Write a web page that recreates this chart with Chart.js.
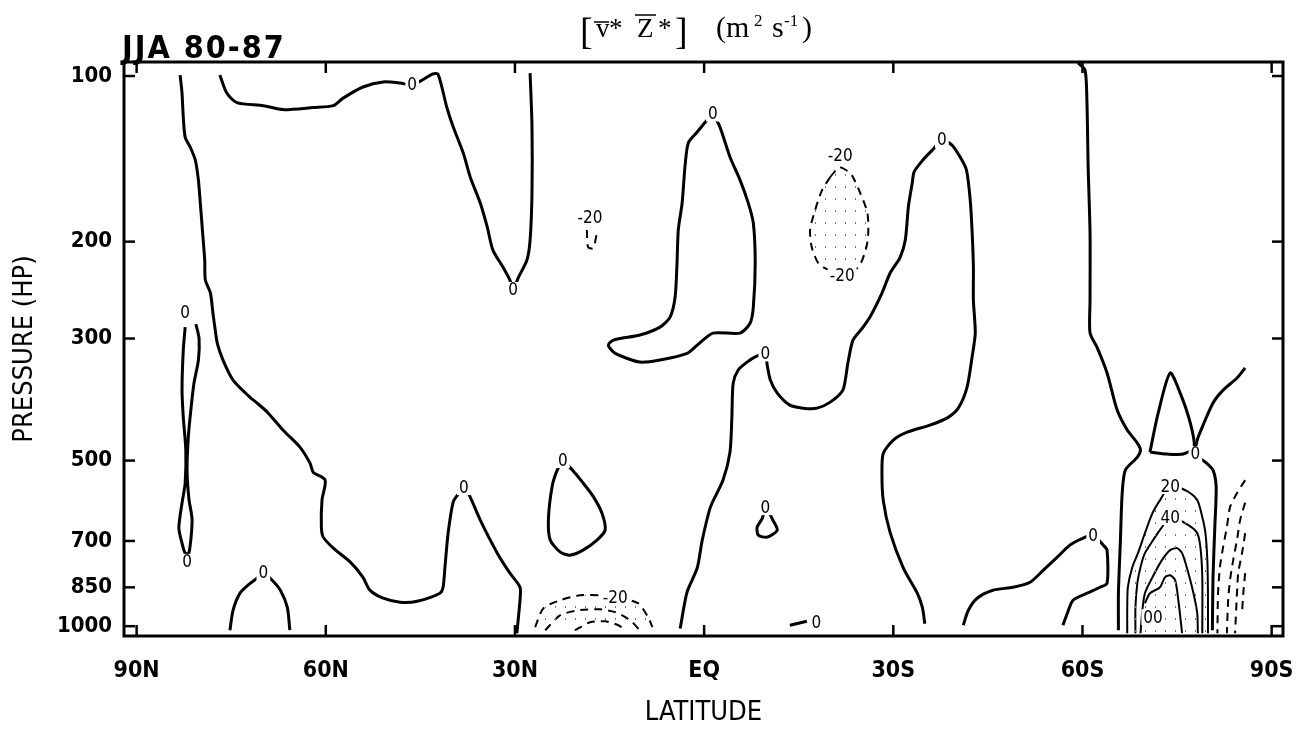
<!DOCTYPE html>
<html>
<head>
<meta charset="utf-8">
<script src="https://cdn.jsdelivr.net/npm/chart.js@4.4.1/dist/chart.umd.min.js"></script>
<style>
  html, body { margin: 0; padding: 0; background: #fff; }
  #wrap { width: 1309px; height: 731px; }
</style>
</head>
<body>
<div id="wrap"><canvas id="chartFlux" width="1309" height="731"></canvas></div>
<script>
// axes: x = latitude in degrees (north negative, south positive), y = pressure in hPa
const latTicks = [-90, -60, -30, 0, 30, 60, 90];
const latTickLabels = ['90N', '60N', '30N', 'EQ', '30S', '60S', '90S'];
const pressureTicks = [100, 200, 300, 500, 700, 850, 1000];

// zero contours [lat, hPa]
const zeroWest = [[-83.1,99.6],[-82.8,107.4],[-82.6,118.7],[-82.3,129.1],[-81.5,134.6],[-80.7,142.1],[-80.2,154.6],[-79.9,170.2],[-79.6,188.4],[-79.2,216],[-79.1,234.9],[-78.3,247.9],[-77.9,269.6],[-77.6,285.8],[-77.2,306.1],[-76.3,328.3],[-74.7,357],[-72.1,383],[-70.9,393],[-69.3,408],[-66.8,440],[-64.1,472.6],[-62.5,505.5],[-62.0,524.8],[-60.1,542.6],[-60.6,590],[-60.7,660.6],[-60.4,688.9],[-58.8,721.4],[-56.1,764.9],[-54.1,815],[-53.0,860],[-50.9,889.6],[-48.2,904.6],[-45.5,900.9],[-41.9,871.1],[-41.4,850],[-41.1,781],[-40.6,677.6],[-39.8,594.9],[-39.0,575.4],[-38.1,558.7],[-37.1,582.5],[-35.5,641.5],[-32.8,736.7],[-30.8,801.1],[-29.2,849.5],[-29.2,897.1],[-29.7,1030]];
const zeroTop = [[-76.8,99.6],[-75.7,107.4],[-74.1,111.8],[-69.9,113.2],[-66.8,115.1],[-62.0,114.1],[-58.8,113.2],[-57.3,109.8],[-54.1,104.7],[-50.9,102.5],[-48.2,103.0],[-46.3,103.8],[-44.7,101.7],[-43.1,99.2],[-42.2,99.2],[-40.8,114.1],[-39.8,123.7],[-38.2,138.0],[-37.1,152.6],[-35.5,170.2],[-34.4,188.1],[-33.5,207.2],[-31.9,222.5],[-30.8,234.9],[-30.3,244.9],[-29.5,232.9],[-28.1,216],[-27.6,198.7],[-27.3,163.2],[-27.3,123.2],[-27.6,98.8]];
const zeroPolarLoop = [[-82.3,286],[-82.6,314.9],[-82.8,372.3],[-82.6,416.8],[-82.2,478.6],[-82.3,549.6],[-82.8,597.4],[-83.3,663.3],[-82.8,706.4],[-82.3,736.6],[-81.7,736.6],[-81.2,641.5],[-81.7,587.6],[-82.0,520.4],[-81.8,453.3],[-81.4,404.8],[-80.9,361.5],[-80.2,328.3],[-80.1,299.6],[-80.6,282.4]];
const zeroArcNH = [[-75.2,1017],[-74.7,935.4],[-73.6,871],[-72.0,836],[-70.9,818],[-69.9,800],[-68.5,825],[-67.2,860.3],[-66.1,924],[-65.7,1017]];
const zeroBoot = [[1.4,117.0],[0.2,121.2],[-1.1,126.4],[-2.5,132.2],[-3.0,144.6],[-3.5,170.5],[-4.1,190.5],[-4.3,218.8],[-4.6,252.2],[-5.4,274.3],[-7.0,286],[-10.2,295.6],[-14.4,302],[-15.2,308.5],[-14.1,319.3],[-10.2,331.1],[-7.0,328.3],[-2.7,319.3],[-1.1,308.5],[1.4,293.3],[5.7,293.3],[7.3,281.2],[7.8,263],[8.1,218.8],[7.8,185],[7.0,170.2],[5.7,154.6],[4.1,140.3],[2.5,123.7],[1.4,117.0]];
const zeroEqSouth = [[-3.8,1010],[-2.7,866.5],[-1.1,784],[-0.3,697.6],[1.0,607.6],[3.0,542.6],[4.1,482.6],[4.4,416.8],[4.6,362],[5.4,342.3],[6.8,331.1],[8.1,324],[9.7,319.3],[10.0,335.2],[10.5,357],[11.6,377],[13.6,396.5],[15.7,401.5],[17.9,401.5],[20.0,391.5],[22.0,372.3],[22.8,332.4],[23.6,302],[25.1,287.1],[26.3,274.2],[28.2,248],[29.5,228.1],[31.1,213.3],[31.9,198.7],[32.4,172.5],[33.0,156.6],[33.3,149.4],[34.7,142.1],[36.2,136.3],[37.7,130.7],[39.3,133.5],[40.6,140.4],[41.6,148.2],[42.2,168.1],[42.5,192.1],[42.7,222.1],[42.7,255.4],[43.0,293.1],[42.5,323.8],[41.7,367.7],[40.3,401.5],[38.5,418.6],[35.8,431],[32.2,444],[30.0,458.9],[28.4,485.5],[28.2,529],[28.4,590],[29.5,676],[31.6,784],[33.8,871],[34.6,923.8],[35.0,990]];
const zero60S = [[59.3,94.7],[60.4,97.5],[60.7,110.6],[60.9,146],[61.2,193.1],[61.2,255.4],[61.2,293.1],[62.3,311],[63.9,346.6],[65.5,404.8],[67.1,440.1],[68.7,464.8],[69.2,478.6],[68.7,492.8],[66.8,520.4],[66.3,573],[66.0,706.5],[65.7,871],[65.7,1017]];
const zeroTent = [[70.7,482.6],[72.0,410],[73.9,346.6],[75.5,377],[77.1,427.4],[77.7,472.7],[76.0,486.6],[73.4,486.6],[70.7,482.6]];
const zeroPole = [[85.8,339.5],[84.5,354],[82.3,372.3],[80.7,393],[79.0,434.6],[78.2,458.9],[77.9,486.6],[79.5,503.3],[80.7,520.4],[81.2,558.8],[81.0,655.2],[80.7,814.6],[80.6,1017]];
const zeroHook60S = [[41.1,996],[41.9,935.4],[43.3,889.6],[45.8,860.3],[49.0,849.6],[51.7,832],[53.8,791.1],[56.0,749.2],[58.0,712.4],[60.1,691.8],[61.7,683.3],[63.3,712.4],[63.9,727.5],[63.9,835.4],[62.8,849.6],[60.7,871.3],[58.5,897.1],[57.6,947.3],[56.9,996]];
const zeroLoop25N = [[-22.4,499],[-23.3,520.4],[-24.1,556.5],[-24.7,641.5],[-24.4,697.6],[-22.8,733.7],[-21.3,742.9],[-19.2,727.5],[-17.0,697.6],[-15.7,669],[-16.2,623.3],[-17.6,580.9],[-19.3,547.3],[-20.9,520.4],[-22.4,499]];
const zeroLoop10S = [[9.7,607.6],[9.2,637.4],[8.4,660.8],[8.6,683.3],[10.0,689],[11.6,669],[10.9,641.5],[10.2,618],[9.7,607.6]];
const zeroStub = [[13.6,996],[16.3,979.5]];

// negative contours (dashed)
const neg20Speck = [[-18.6,190.5],[-18.4,204.7],[-17.6,205.5],[-17.0,192.9]];
const neg20Oval = [[20.0,152.6],[18.7,161.2],[17.6,175.3],[16.8,190.5],[17.1,205.5],[18.1,218.8],[19.5,224.4],[21.6,226.2],[24.3,223.5],[25.5,209.4],[26.0,196.2],[25.9,177.5],[24.7,162.6],[23.5,151.9],[22.8,149.0],[21.4,146.6],[20.0,152.6]];
const neg20Arch = [[-26.8,1004],[-25.5,928],[-22.8,897],[-19.7,879],[-16.5,879],[-14.1,886],[-10.5,908],[-8.9,963],[-8.2,1004]];
const neg40Arch = [[-25.2,1017],[-22.8,955],[-19.7,935],[-16.5,932],[-14.1,943],[-11.7,976],[-10.2,1017]];
const neg60Arch = [[-20.5,1017],[-18.1,984],[-15.7,980],[-13.6,996],[-12.5,1017]];
const negPolarA = [[85.8,542.6],[84.5,573],[83.4,607.6],[82.9,660.6],[82.3,718.4],[81.8,781.2],[81.5,871.3],[81.4,1030]];
const negPolarB = [[85.8,596.3],[85.0,641.5],[84.5,697.6],[83.9,758.6],[83.4,825],[83.1,897.1],[82.9,1030]];
const negPolarC = [[85.8,677.6],[85.3,736.8],[84.7,801.1],[84.5,871.3],[84.2,1030]];
const negPolarD = [[85.8,801.1],[85.5,871.3],[85.3,947.3]];

// positive contours (thin solid)
const pos20 = [[67.1,1030],[67.1,923.8],[67.2,849.6],[67.9,781.2],[68.8,736.8],[69.9,677.6],[71.1,622.9],[72.3,590],[73.9,556.4],[76.6,568.2],[78.2,590],[79.0,633.5],[79.5,677.6],[79.8,758.6],[79.9,871.3],[79.9,1030]];
const pos40 = [[68.4,1030],[68.4,923.8],[68.7,835.4],[69.2,781.2],[69.9,736.8],[71.2,697.6],[72.6,660.6],[73.9,633.5],[76.8,655],[78.2,677.6],[78.7,718.4],[79.0,814.7],[79.0,1030]];
const pos60 = [[69.2,1030],[69.5,935.4],[69.9,871.3],[71.1,814.7],[72.6,758.6],[73.9,727.5],[75.0,721.4],[75.8,736.8],[76.8,801.1],[77.6,871.3],[78.2,947.3],[78.3,1030]];
const pos80 = [[69.9,908.4],[70.7,871.3],[72.3,849.6],[73.1,814.7],[73.9,807.9],[74.7,825],[75.2,897.1],[75.8,1030]];

// contour labels [lat, hPa, text]
const contourLabels = [
  [-38.1,558.7,'0'],[-46.3,103.8,'0'],[-30.3,244.9,'0'],[-82.3,269,'0'],[-82.0,764,'0'],
  [-69.9,800,'0'],[1.4,117,'0'],[9.7,319.3,'0'],[37.7,130.7,'0'],[77.9,486.6,'0'],
  [61.7,683.3,'0'],[-22.4,499,'0'],[9.7,607.6,'0'],[17.8,983.6,'0'],
  [-18.1,181.1,'-20'],[21.6,139.4,'-20'],[21.9,230.9,'-20'],[-14.1,886,'-20'],
  [73.9,556.4,'20'],[73.9,633.5,'40'],[71.2,963,'00']
];

const FONT = '"DejaVu Sans Condensed", "DejaVu Sans", sans-serif';

// stipple used for shaded areas
const dotCanvas = document.createElement('canvas');
dotCanvas.width = 10; dotCanvas.height = 12;
const dctx = dotCanvas.getContext('2d');
dctx.fillStyle = '#777';
dctx.fillRect(5, 6, 1, 2);
const dotPattern = dctx.createPattern(dotCanvas, 'repeat');

const makeSet = (pts, kind, shaded) => ({
  data: pts.map(p => ({ x: p[0], y: p[1] })),
  showLine: true,
  pointRadius: 0,
  borderColor: '#000',
  borderWidth: kind === 'zero' ? 3 : 2,
  borderDash: kind === 'neg' ? [8, 6] : [],
  tension: 0.25,
  fill: shaded ? 'shape' : false,
  backgroundColor: shaded ? dotPattern : 'rgba(0,0,0,0)'
});

const datasets = [
  makeSet(neg20Oval, 'neg', true),
  makeSet(neg20Arch, 'neg', true),
  makeSet(pos20, 'pos', true),
  makeSet(zeroWest, 'zero'), makeSet(zeroTop, 'zero'), makeSet(zeroPolarLoop, 'zero'),
  makeSet(zeroArcNH, 'zero'), makeSet(zeroBoot, 'zero'), makeSet(zeroEqSouth, 'zero'),
  makeSet(zero60S, 'zero'), makeSet(zeroTent, 'zero'), makeSet(zeroPole, 'zero'),
  makeSet(zeroHook60S, 'zero'), makeSet(zeroLoop25N, 'zero'), makeSet(zeroLoop10S, 'zero'),
  makeSet(zeroStub, 'zero'),
  makeSet(neg20Speck, 'neg'), makeSet(neg40Arch, 'neg'), makeSet(neg60Arch, 'neg'),
  makeSet(negPolarA, 'neg'), makeSet(negPolarB, 'neg'), makeSet(negPolarC, 'neg'), makeSet(negPolarD, 'neg'),
  makeSet(pos40, 'pos'), makeSet(pos60, 'pos'), makeSet(pos80, 'pos')
];

// labels, frame, inward ticks and titles
const decorPlugin = {
  id: 'decor',
  beforeDraw(chart) {
    const { ctx } = chart;
    ctx.save();
    ctx.fillStyle = '#fff';
    ctx.fillRect(0, 0, chart.width, chart.height);
    ctx.restore();
  },
  afterDatasetsDraw(chart) {
    const { ctx, chartArea: a, scales: { x, y } } = chart;
    ctx.save();
    ctx.font = '17px ' + FONT;
    ctx.textAlign = 'center';
    ctx.textBaseline = 'middle';
    contourLabels.forEach(([lat, p, txt]) => {
      const px = x.getPixelForValue(lat);
      const py = y.getPixelForValue(p);
      const w = ctx.measureText(txt).width;
      ctx.fillStyle = '#fff';
      ctx.fillRect(px - w / 2 - 2, py - 8, w + 4, 16);
      ctx.fillStyle = '#000';
      ctx.fillText(txt, px, py + 1);
    });

    // frame
    ctx.strokeStyle = '#000';
    ctx.lineWidth = 3;
    ctx.strokeRect(a.left, a.top, a.right - a.left, a.bottom - a.top);
    ctx.lineWidth = 2.5;
    const seg = (x1, y1, x2, y2) => { ctx.beginPath(); ctx.moveTo(x1, y1); ctx.lineTo(x2, y2); ctx.stroke(); };
    latTicks.forEach(v => {
      const px = x.getPixelForValue(v);
      seg(px, a.top, px, a.top + 11);
      seg(px, a.bottom, px, a.bottom - 11);
    });
    pressureTicks.forEach(v => {
      const py = y.getPixelForValue(v);
      seg(a.left, py, a.left + 11, py);
      seg(a.right, py, a.right - 11, py);
    });

    // season label
    ctx.fillStyle = '#000';
    ctx.textAlign = 'left';
    ctx.textBaseline = 'alphabetic';
    ctx.font = 'bold 32px ' + FONT;
    ctx.letterSpacing = '2px';
    ctx.fillText('JJA 80-87', 122, 58);
    ctx.letterSpacing = '0px';

    // title  [v*Z*]  (m2 s-1)
    const serif = '"Liberation Serif", "Times New Roman", serif';
    ctx.font = '38px ' + serif;
    ctx.fillText('[', 580, 44);
    ctx.fillText(']', 675, 44);
    ctx.font = '27px ' + serif;
    ctx.fillText('v', 596, 37);
    ctx.fillText('*', 609, 37);
    ctx.fillText('Z', 637, 37);
    ctx.fillText('*', 658, 37);
    ctx.lineWidth = 1.5;
    seg(594, 22, 609, 22);
    seg(635, 15, 656, 15);
    ctx.font = '30px ' + serif;
    ctx.fillText('(', 716, 37);
    ctx.fillText('m', 726, 37);
    ctx.fillText('s', 772, 37);
    ctx.fillText(')', 802, 37);
    ctx.font = '17px ' + serif;
    ctx.fillText('2', 754, 26);
    ctx.fillText('-1', 784, 26);
    ctx.restore();
  }
};

const chartFlux = new Chart(document.getElementById('chartFlux'), {
  type: 'scatter',
  data: { datasets },
  options: {
    responsive: false,
    animation: false,
    layout: { padding: { top: 62, right: 26, left: 0, bottom: 0 } },
    plugins: { legend: { display: false }, tooltip: { enabled: false } },
    scales: {
      x: {
        type: 'linear',
        min: -92,
        max: 91.8,
        grid: { display: false, drawTicks: false },
        border: { display: false },
        afterBuildTicks: s => { s.ticks = latTicks.map(v => ({ value: v })); },
        afterFit: s => { s.height = 95; s.paddingLeft = 0; s.paddingRight = 0; },
        ticks: {
          autoSkip: false, maxRotation: 0, padding: 21, color: '#000',
          font: { family: FONT, size: 23, weight: 'bold' },
          callback: v => latTickLabels[latTicks.indexOf(v)]
        },
        title: {
          display: true, text: 'LATITUDE', color: '#000',
          font: { family: FONT, size: 27 },
          padding: { top: 0, bottom: 2 }
        }
      },
      y: {
        type: 'logarithmic',
        reverse: true,
        min: 94.3,
        max: 1042,
        grid: { display: false, drawTicks: false },
        border: { display: false },
        afterBuildTicks: s => { s.ticks = pressureTicks.map(v => ({ value: v })); },
        afterFit: s => { s.width = 124; s.paddingTop = 0; s.paddingBottom = 0; },
        ticks: {
          autoSkip: false, padding: 12, color: '#000',
          font: { family: FONT, size: 22, weight: 'bold' },
          callback: v => String(v)
        },
        title: {
          display: true, text: 'PRESSURE (HP)', color: '#000',
          font: { family: FONT, size: 27 },
          padding: { top: 9, bottom: 0 }
        }
      }
    }
  },
  plugins: [decorPlugin]
});
</script>
</body>
</html>
